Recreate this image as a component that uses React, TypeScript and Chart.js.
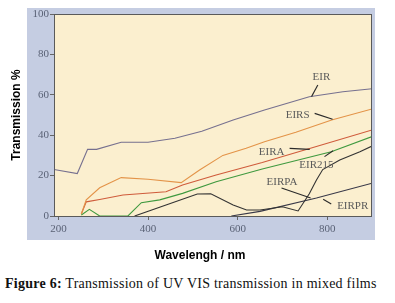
import React, { useEffect, useRef } from "react";
import { Chart, registerables } from "chart.js";

Chart.register(...registerables);

// ---- data ----
const X_TICKS = [200, 400, 600, 800];
const Y_TICKS = [0, 20, 40, 60, 80, 100];

const EIR_NM = [190, 242, 265, 285, 340, 400, 460, 520, 590, 660, 760, 835, 900];
const EIR_T = [23, 21, 33, 33, 36.5, 36.5, 38.5, 42, 47.5, 52.5, 59, 61.5, 63];

const EIRS_NM = [251, 262, 292, 340, 400, 474, 515, 567, 619, 660, 730, 810, 900];
const EIRS_T = [1, 8, 14, 19, 18.2, 16.5, 22.8, 30, 33.5, 36.8, 41.5, 47.5, 53];

const EIRA_NM = [251, 262, 292, 344, 440, 477, 552, 655, 757, 900];
const EIRA_T = [1, 7, 8.2, 10.4, 12, 15.3, 20.3, 26.5, 33.2, 42.6];

const EIR215_NM = [251, 269, 292, 355, 385, 426, 477, 552, 655, 809, 900];
const EIR215_T = [0.5, 3.3, 0, 0, 6.6, 8, 11.2, 17, 23.3, 31.8, 39.3];

const EIRPA_NM = [370, 510, 540, 590, 620, 650, 700, 735, 760, 776, 790, 828, 873, 900];
const EIRPA_T = [0, 10.9, 11, 5.5, 3, 3, 4.6, 2.5, 11, 17.8, 23, 27.7, 31.8, 34.6];

const EIRPR_NM = [586, 650, 776, 900];
const EIRPR_T = [0, 2.3, 8.9, 16.2];

const SERIES_NAMES = ["EIR", "EIRS", "EIRA", "EIR215", "EIRPA", "EIRPR"];

// label annotations (text position and pointer line, in data units)
const LABEL_NM = [787, 734, 676, 776, 699, 857];
const LABEL_T = [68.7, 50, 31.7, 25.2, 17, 5];
const PTR_FROM_NM = [779, 772, 716, 794, 698, 791];
const PTR_FROM_T = [64.9, 50.8, 33.5, 29.4, 13.9, 8.3];
const PTR_TO_NM = [765, 812, 761, 813, 763, 809];
const PTR_TO_T = [59.1, 47.9, 33, 32.3, 8.9, 5.9];

const X_TITLE = "Wavelengh / nm";
const Y_TITLE = "Transmission %";

const COLORS = ["#76708f", "#e39348", "#cf5b3b", "#3f993f", "#333333", "#383848"];

const pts = (xs: number[], ys: number[]) => xs.map((x, i) => ({ x, y: ys[i] }));

const decorPlugin = {
  id: "decor",
  beforeDraw(chart: any) {
    const { ctx, chartArea: a, width, height } = chart;
    ctx.save();
    ctx.fillStyle = "#ffffff";
    ctx.fillRect(0, 0, width, height);
    // blue-gray panel
    ctx.fillStyle = "#c5cde2";
    ctx.fillRect(a.left - 27, a.top - 6, a.right - a.left + 30, a.bottom - a.top + 30);
    // cream plot area
    ctx.fillStyle = "#fbefcf";
    ctx.fillRect(a.left, a.top, a.right - a.left, a.bottom - a.top);
    ctx.restore();
  },
  afterDraw(chart: any) {
    const { ctx, chartArea: a, scales } = chart;
    const xs = scales.x;
    const ys = scales.y;
    ctx.save();
    ctx.strokeStyle = "#5a5a5a";
    ctx.lineWidth = 1;
    ctx.strokeRect(a.left + 0.5, a.top + 0.5, a.right - a.left - 1, a.bottom - a.top);
    // annotations
    ctx.font = "11px 'Liberation Serif', 'DejaVu Serif', serif";
    ctx.textAlign = "center";
    ctx.textBaseline = "middle";
    SERIES_NAMES.forEach((name, i) => {
      ctx.fillStyle = "#5b5b5b";
      ctx.fillText(name, xs.getPixelForValue(LABEL_NM[i]), ys.getPixelForValue(LABEL_T[i]));
      ctx.strokeStyle = "#2a2a2a";
      ctx.lineWidth = 1.1;
      ctx.beginPath();
      ctx.moveTo(xs.getPixelForValue(PTR_FROM_NM[i]), ys.getPixelForValue(PTR_FROM_T[i]));
      ctx.lineTo(xs.getPixelForValue(PTR_TO_NM[i]), ys.getPixelForValue(PTR_TO_T[i]));
      ctx.stroke();
    });
    // axis titles
    ctx.fillStyle = "#000000";
    ctx.font = "bold 12px 'Liberation Sans', Arial, sans-serif";
    ctx.textAlign = "center";
    ctx.textBaseline = "middle";
    ctx.fillText(X_TITLE, 200, 256);
    ctx.translate(17, (a.top + a.bottom) / 2);
    ctx.rotate(-Math.PI / 2);
    ctx.fillText(Y_TITLE, 0, 0);
    ctx.restore();
  },
};

export default function App() {
  const ref = useRef<HTMLCanvasElement | null>(null);

  useEffect(() => {
    if (!ref.current) return;
    const series = [
      pts(EIR_NM, EIR_T),
      pts(EIRS_NM, EIRS_T),
      pts(EIRA_NM, EIRA_T),
      pts(EIR215_NM, EIR215_T),
      pts(EIRPA_NM, EIRPA_T),
      pts(EIRPR_NM, EIRPR_T),
    ];
    const chart = new Chart(ref.current, {
      type: "line",
      data: {
        datasets: series.map((d, i) => ({
          label: SERIES_NAMES[i],
          data: d,
          borderColor: COLORS[i],
          borderWidth: 1.1,
          pointRadius: 0,
          tension: 0,
          fill: false,
        })),
      },
      options: {
        animation: false,
        responsive: true,
        maintainAspectRatio: false,
        layout: { padding: { left: 0, top: 14, right: 23, bottom: 0 } },
        plugins: { legend: { display: false }, tooltip: { enabled: false } },
        scales: {
          x: {
            type: "linear",
            min: 190,
            max: 900,
            afterBuildTicks: (s: any) => {
              s.ticks = X_TICKS.map((v) => ({ value: v }));
            },
            afterFit: (s: any) => {
              s.height = 54;
            },
            grid: { drawOnChartArea: false, drawTicks: true, tickLength: 4, color: "#666666" },
            border: { display: false },
            ticks: {
              padding: 3,
              color: "#5a6276",
              font: { family: "'Liberation Serif', 'DejaVu Serif', serif", size: 11 },
              maxRotation: 0,
            },
          },
          y: {
            min: 0,
            max: 100,
            afterBuildTicks: (s: any) => {
              s.ticks = Y_TICKS.map((v) => ({ value: v }));
            },
            afterFit: (s: any) => {
              s.width = 54;
            },
            grid: { drawOnChartArea: false, drawTicks: true, tickLength: 4, color: "#666666" },
            border: { display: false },
            ticks: {
              padding: 1,
              color: "#5a6276",
              font: { family: "'Liberation Serif', 'DejaVu Serif', serif", size: 11 },
            },
          },
        },
      },
      plugins: [decorPlugin],
    });
    return () => chart.destroy();
  }, []);

  return (
    <div style={{ position: "fixed", left: 0, top: 0, width: 395, height: 303, background: "#fff" }}>
      <div style={{ position: "absolute", left: 0, top: 0, width: 395, height: 270 }}>
        <canvas ref={ref} />
      </div>
      <div
        style={{
          position: "absolute",
          left: 5,
          top: 276,
          whiteSpace: "nowrap",
          fontFamily: "'Liberation Serif', 'DejaVu Serif', serif",
          fontSize: 14,
          letterSpacing: "0.25px",
          color: "#111",
        }}
      >
        <b>Figure 6:</b> Transmission of UV VIS transmission in mixed films
      </div>
    </div>
  );
}
